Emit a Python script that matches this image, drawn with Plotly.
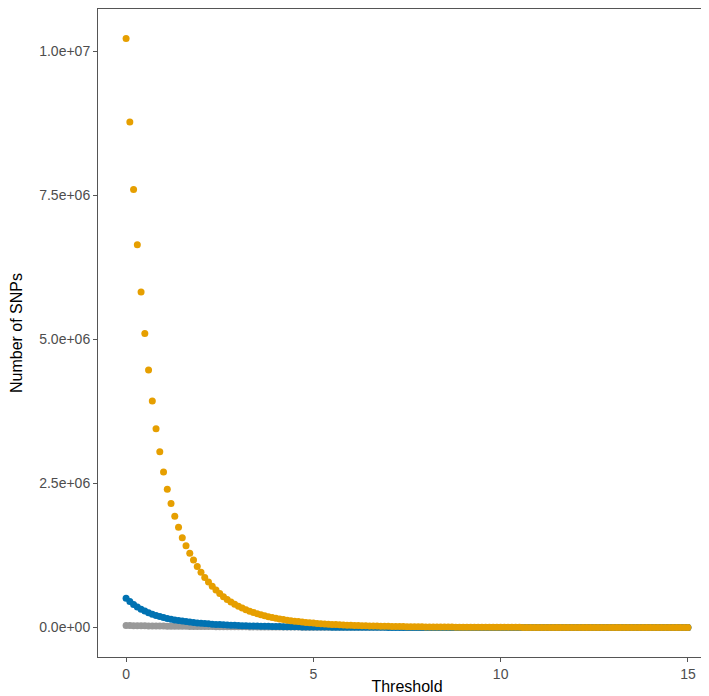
import plotly.graph_objects as go

thresholds = [
    0.0, 0.1, 0.2, 0.3, 0.4, 0.5, 0.6, 0.7, 0.8, 0.9,
    1.0, 1.1, 1.2, 1.3, 1.4, 1.5, 1.6, 1.7, 1.8, 1.9,
    2.0, 2.1, 2.2, 2.3, 2.4, 2.5, 2.6, 2.7, 2.8, 2.9,
    3.0, 3.1, 3.2, 3.3, 3.4, 3.5, 3.6, 3.7, 3.8, 3.9,
    4.0, 4.1, 4.2, 4.3, 4.4, 4.5, 4.6, 4.7, 4.8, 4.9,
    5.0, 5.1, 5.2, 5.3, 5.4, 5.5, 5.6, 5.7, 5.8, 5.9,
    6.0, 6.1, 6.2, 6.3, 6.4, 6.5, 6.6, 6.7, 6.8, 6.9,
    7.0, 7.1, 7.2, 7.3, 7.4, 7.5, 7.6, 7.7, 7.8, 7.9,
    8.0, 8.1, 8.2, 8.3, 8.4, 8.5, 8.6, 8.7, 8.8, 8.9,
    9.0, 9.1, 9.2, 9.3, 9.4, 9.5, 9.6, 9.7, 9.8, 9.9,
    10.0, 10.1, 10.2, 10.3, 10.4, 10.5, 10.6, 10.7, 10.8, 10.9,
    11.0, 11.1, 11.2, 11.3, 11.4, 11.5, 11.6, 11.7, 11.8, 11.9,
    12.0, 12.1, 12.2, 12.3, 12.4, 12.5, 12.6, 12.7, 12.8, 12.9,
    13.0, 13.1, 13.2, 13.3, 13.4, 13.5, 13.6, 13.7, 13.8, 13.9,
    14.0, 14.1, 14.2, 14.3, 14.4, 14.5, 14.6, 14.7, 14.8, 14.9,
    15.0,
]

snps_gray = [
    35000, 34000, 33000, 32000, 31000, 30000, 29000, 28000, 27000, 26000,
    25200, 24400, 23600, 22800, 22000, 21300, 20600, 19900, 19200, 18600,
    18000, 17400, 16800, 16200, 15700, 15200, 14700, 14200, 13700, 13200,
    12800, 12400, 12000, 11600, 11200, 10800, 10400, 10100, 9800, 9500,
    9200, 8900, 8600, 8300, 8000, 7700, 7500, 7200, 7000, 6800,
    6600, 6400, 6200, 6000, 5800, 5600, 5400, 5200, 5000, 4900,
    4700, 4600, 4400, 4300, 4100, 4000, 3900, 3700, 3600, 3500,
    3400, 3300, 3200, 3100, 3000, 2900, 2800, 2700, 2600, 2500,
    2400, 2400, 2300, 2200, 2100, 2100, 2000, 1900, 1900, 1800,
    1800, 1700, 1700, 1600, 1600, 1500, 1500, 1400, 1400, 1300,
    1300, 1300, 1200, 1200, 1100, 1100, 1100, 1000, 1000, 1000,
    950, 920, 890, 860, 830, 800, 770, 740, 720, 700,
    670, 650, 630, 610, 590, 570, 550, 530, 510, 490,
    470, 460, 440, 430, 410, 400, 390, 370, 360, 350,
    340, 330, 320, 310, 300, 290, 280, 270, 260, 250,
    240,
]

snps_blue = [
    510000, 450000, 400000, 355000, 318000, 285000, 256000, 231000, 209000, 190000,
    173000, 158000, 145000, 133000, 122000, 112000, 103000, 95000, 88000, 81000,
    75000, 69000, 64000, 59000, 55000, 51000, 47000, 44000, 41000, 38000,
    35000, 33000, 31000, 29000, 27000, 25000, 23500, 22000, 20600, 19300,
    18000, 16900, 15900, 14900, 14000, 13100, 12300, 11600, 10900, 10200,
    9600, 9000, 8500, 8000, 7500, 7100, 6700, 6300, 5900, 5600,
    5300, 5000, 4700, 4400, 4200, 4000, 3700, 3500, 3300, 3100,
    3000, 2800, 2700, 2500, 2400, 2200, 2100, 2000, 1900, 1800,
    1700, 1600, 1520, 1440, 1370, 1300, 1240, 1180, 1120, 1060,
    1010, 960, 910, 860, 820, 780, 740, 700, 670, 640,
    610, 580, 550, 520, 500, 470, 450, 430, 410, 390,
    370, 350, 330, 320, 300, 290, 270, 260, 250, 240,
    230, 220, 210, 200, 190, 180, 170, 160, 155, 150,
    140, 135, 130, 125, 120, 115, 110, 105, 100, 95,
    90, 86, 82, 78, 74, 70, 67, 64, 61, 58,
    55,
]

snps_orange = [
    10220000, 8770000, 7600000, 6640000, 5820000, 5100000, 4470000, 3930000, 3450000, 3050000,
    2700000, 2400000, 2150000, 1930000, 1740000, 1560000, 1420000, 1290000, 1170000, 1060000,
    960000, 870000, 790000, 715000, 650000, 590000, 535000, 487000, 443000, 405000,
    370000, 338000, 310000, 284000, 261000, 240000, 221000, 204000, 188000, 174000,
    161000, 149000, 138000, 128000, 119000, 111000, 103000, 96000, 89000, 83000,
    77000, 72000, 67000, 63000, 59000, 55000, 51000, 48000, 45000, 42000,
    39000, 37000, 35000, 33000, 31000, 29000, 27000, 25500, 24000, 22500,
    21000, 19800, 18600, 17500, 16500, 15500, 14600, 13800, 13000, 12200,
    11500, 10800, 10200, 9600, 9100, 8600, 8100, 7700, 7300, 6900,
    6500, 6200, 5900, 5600, 5300, 5000, 4800, 4500, 4300, 4100,
    3900, 3700, 3500, 3400, 3200, 3100, 2900, 2800, 2700, 2600,
    2500, 2400, 2300, 2200, 2100, 2000, 1900, 1800, 1800, 1700,
    1600, 1600, 1500, 1500, 1400, 1400, 1300, 1300, 1200, 1200,
    1100, 1100, 1100, 1000, 1000, 1000, 900, 900, 900, 800,
    800, 800, 800, 700, 700, 700, 700, 600, 600, 600,
    600,
]

x_tickvals = [0, 5, 10, 15]
x_ticktext = ["0", "5", "10", "15"]
y_tickvals = [0, 2500000, 5000000, 7500000, 10000000]
y_ticktext = ["0.0e+00", "2.5e+06", "5.0e+06", "7.5e+06", "1.0e+07"]

series = [
    ("gray", snps_gray, "#999999"),
    ("blue", snps_blue, "#0072B2"),
    ("orange", snps_orange, "#E69F00"),
]

fig = go.Figure()
for name, vals, col in series:
    fig.add_trace(go.Scatter(
        x=thresholds, y=vals, mode="markers", name=name,
        marker=dict(color=col, size=7, line=dict(width=0)),
        showlegend=False,
    ))

# ggplot-style 5% expansion of the data ranges
all_y = snps_gray + snps_blue + snps_orange
ymin, ymax = min(all_y), max(all_y)
ypad = (ymax - ymin) * 0.05
xmin, xmax = min(thresholds), max(thresholds)
xpad = (xmax - xmin) * 0.05

font_family = "Liberation Sans, Arial, sans-serif"
axis_common = dict(
    showgrid=False, zeroline=False, showline=True, mirror=True,
    linecolor="#555555", linewidth=1,
    ticks="outside", ticklen=4, tickwidth=1, tickcolor="#555555",
    tickfont=dict(family=font_family, size=14, color="#4D4D4D"),
)

fig.update_layout(
    width=709, height=696,
    margin=dict(l=90, r=1, t=1, b=47),
    paper_bgcolor="white", plot_bgcolor="white",
    font=dict(family=font_family),
    xaxis=dict(
        range=[xmin - xpad, xmax + xpad],
        tickvals=x_tickvals, ticktext=x_ticktext,
        title=dict(text="Threshold", font=dict(family=font_family, size=16, color="black"), standoff=0),
        automargin=False,
        **axis_common,
    ),
    yaxis=dict(
        range=[ymin - ypad, ymax + ypad],
        tickvals=y_tickvals, ticktext=y_ticktext,
        title=dict(text="Number of SNPs", font=dict(family=font_family, size=16, color="black"), standoff=12),
        automargin=False,
        **axis_common,
    ),
)

fig.write_html("out.html")
